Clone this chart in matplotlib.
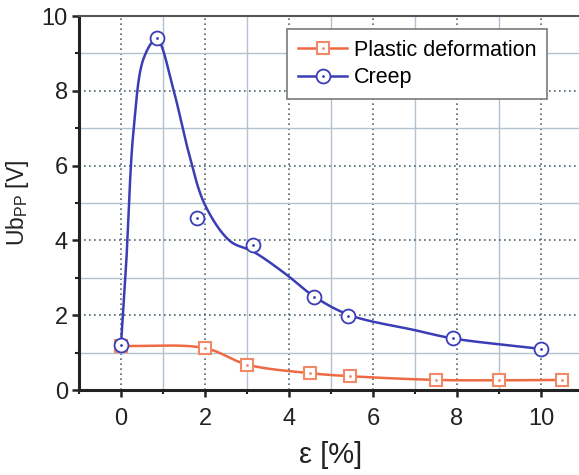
import numpy as np
import matplotlib
matplotlib.use('Agg')
from matplotlib import pyplot as plt
from matplotlib.ticker import MultipleLocator

plt.rcParams['font.family'] = ['Liberation Sans', 'DejaVu Sans']
plt.rcParams['mathtext.fontset'] = 'custom'
plt.rcParams['mathtext.rm'] = 'Liberation Sans'

# measured points
strain_plastic = [0.0, 2.0, 3.0, 4.5, 5.45, 7.5, 9.0, 10.5]
ub_plastic = [1.18, 1.12, 0.68, 0.45, 0.37, 0.27, 0.26, 0.27]

strain_creep = [0.0, 0.85, 1.8, 3.15, 4.6, 5.4, 7.9, 10.0]
ub_creep = [1.2, 9.42, 4.6, 3.88, 2.5, 1.98, 1.38, 1.1]

# knots of the smoothed creep curve
creep_fit_x = [0.0, 0.12, 0.3, 0.55, 0.85, 1.25, 1.6, 2.0, 2.6, 3.15, 3.9,
               4.6, 5.45, 7.0, 7.9, 10.0]
creep_fit_y = [1.2, 3.3, 6.95, 8.9, 9.38, 8.02, 6.4, 4.95, 3.98, 3.7, 3.12,
               2.5, 2.0, 1.6, 1.38, 1.1]

BLUE = '#3b3db4'
ORANGE = '#ee6a44'
ORANGE_MK = '#f08a66'


def smooth_path(x, y, per=60, sx=42.0, sy=37.4):
    """Centripetal Catmull-Rom through (x, y), spacing taken in screen units."""
    P = np.column_stack([np.asarray(x, float) * sx, np.asarray(y, float) * sy])
    P = np.vstack([2 * P[0] - P[1], P, 2 * P[-1] - P[-2]])
    segs = []
    for i in range(len(P) - 3):
        p0, p1, p2, p3 = P[i:i + 4]
        t0 = 0.0
        t1 = t0 + np.linalg.norm(p1 - p0) ** 0.5
        t2 = t1 + np.linalg.norm(p2 - p1) ** 0.5
        t3 = t2 + np.linalg.norm(p3 - p2) ** 0.5
        t = np.linspace(t1, t2, per)[:, None]
        a1 = (t1 - t) / (t1 - t0) * p0 + (t - t0) / (t1 - t0) * p1
        a2 = (t2 - t) / (t2 - t1) * p1 + (t - t1) / (t2 - t1) * p2
        a3 = (t3 - t) / (t3 - t2) * p2 + (t - t2) / (t3 - t2) * p3
        b1 = (t2 - t) / (t2 - t0) * a1 + (t - t0) / (t2 - t0) * a2
        b2 = (t3 - t) / (t3 - t1) * a2 + (t - t1) / (t3 - t1) * a3
        segs.append((t2 - t) / (t2 - t1) * b1 + (t - t1) / (t2 - t1) * b2)
    c = np.vstack(segs)
    return c[:, 0] / sx, c[:, 1] / sy


fig = plt.figure(figsize=(5.79, 4.75), dpi=100)
ax = fig.add_axes([0.1364, 0.1789, 0.8705, 0.7874])

ax.set_xlim(-1, 11)
ax.set_ylim(0, 10)
ax.xaxis.set_major_locator(MultipleLocator(2))
ax.xaxis.set_minor_locator(MultipleLocator(1))
ax.yaxis.set_major_locator(MultipleLocator(2))
ax.yaxis.set_minor_locator(MultipleLocator(1))

ax.grid(which='major', linestyle=(0, (1, 2)), color='#4d6473', linewidth=1.2)
ax.grid(which='minor', linestyle='-', color='#b4c2cf', linewidth=1.0)
ax.set_axisbelow(True)

# fitted lines
ax.plot(*smooth_path(strain_plastic, ub_plastic), color=ORANGE, lw=1.8, zorder=3)
ax.plot(*smooth_path(creep_fit_x, creep_fit_y), color=BLUE, lw=1.8, zorder=4)

# hollow markers with a centre dot
ax.plot(strain_plastic, ub_plastic, linestyle='none', marker='s',
        markersize=9, markerfacecolor='white', markeredgecolor=ORANGE_MK,
        markeredgewidth=1.5, zorder=5)
ax.plot(strain_plastic, ub_plastic, linestyle='none', marker='.', markersize=2,
        color=ORANGE_MK, zorder=6)
ax.plot(strain_creep, ub_creep, linestyle='none', marker='o',
        markersize=10, markerfacecolor='white', markeredgecolor=BLUE,
        markeredgewidth=1.3, zorder=7)
ax.plot(strain_creep, ub_creep, linestyle='none', marker='.', markersize=2,
        color=BLUE, zorder=8)

h_plastic = (plt.Line2D([], [], color=ORANGE, lw=1.8, marker='s', markersize=9,
                        markerfacecolor='white', markeredgecolor=ORANGE_MK,
                        markeredgewidth=1.5),
             plt.Line2D([], [], linestyle='none', marker='.', markersize=2,
                        color=ORANGE_MK))
h_creep = (plt.Line2D([], [], color=BLUE, lw=1.8, marker='o', markersize=10,
                      markerfacecolor='white', markeredgecolor=BLUE,
                      markeredgewidth=1.3),
           plt.Line2D([], [], linestyle='none', marker='.', markersize=2,
                      color=BLUE))
leg = ax.legend([h_plastic, h_creep], ['Plastic deformation', 'Creep'],
                loc='upper left', bbox_to_anchor=(0.413, 0.965), borderaxespad=0,
                fontsize=15.5, handlelength=2.3, handletextpad=0.3,
                labelspacing=0.3, borderpad=0.5, numpoints=1,
                fancybox=False, framealpha=1, edgecolor='#7a7a7a')
leg.get_frame().set_linewidth(1.2)
leg.set_zorder(10)

for side in ('left', 'bottom'):
    ax.spines[side].set_linewidth(2.2)
    ax.spines[side].set_color('#222222')
ax.spines['top'].set_linewidth(1.5)
ax.spines['top'].set_color('#555555')
ax.spines['right'].set_visible(False)

ax.tick_params(which='major', direction='out', length=5, width=1.8,
               labelsize=17, colors='#222222')
ax.tick_params(which='minor', direction='out', length=3, width=1.5,
               colors='#222222')
ax.tick_params(axis='x', which='major', pad=8)
ax.tick_params(axis='y', which='major', pad=3)
ax.tick_params(top=False, right=False, which='both')

ax.set_xlabel('ε [%]', fontsize=21, color='#222222', labelpad=8)
ax.set_ylabel(r'Ub$_{\mathregular{PP}}$ [V]', fontsize=16.5, color='#222222')
ax.yaxis.set_label_coords(-0.095, 0.5)

fig.savefig('out.png', dpi=100)
